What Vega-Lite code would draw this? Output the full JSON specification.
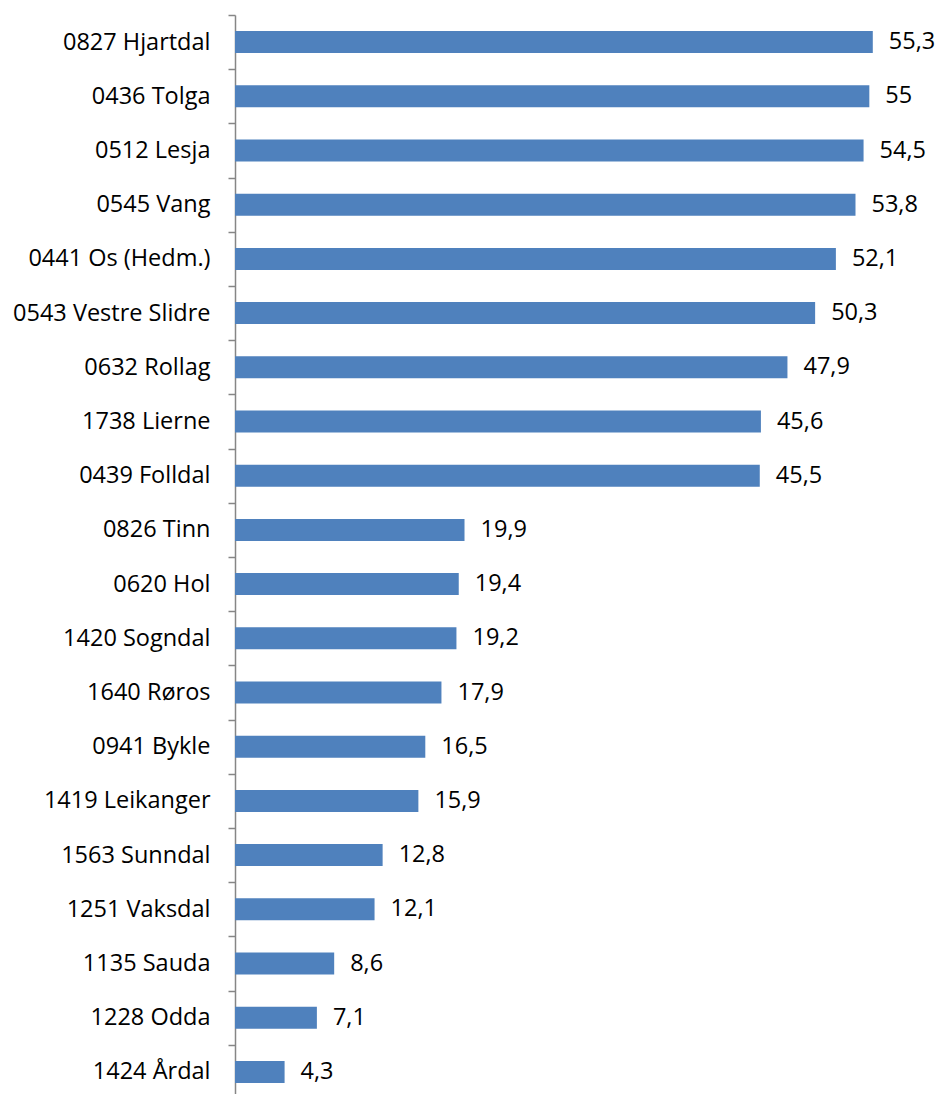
{
  "$schema": "https://vega.github.io/schema/vega-lite/v6.json",
  "autosize": "none",
  "padding": {"left": 235, "top": 15, "right": 12, "bottom": 0},
  "width": 692,
  "height": 1084,
  "background": "white",
  "config": {
    "view": {"stroke": null},
    "font": "Open Sans",
    "locale": {
      "number": {"decimal": ",", "thousands": " ", "grouping": [3], "currency": ["", " kr"]}
    }
  },
  "data": {
    "values": [
      {"kommune": "0827 Hjartdal", "verdi": 55.3},
      {"kommune": "0436 Tolga", "verdi": 55},
      {"kommune": "0512 Lesja", "verdi": 54.5},
      {"kommune": "0545 Vang", "verdi": 53.8},
      {"kommune": "0441 Os (Hedm.)", "verdi": 52.1},
      {"kommune": "0543 Vestre Slidre", "verdi": 50.3},
      {"kommune": "0632 Rollag", "verdi": 47.9},
      {"kommune": "1738 Lierne", "verdi": 45.6},
      {"kommune": "0439 Folldal", "verdi": 45.5},
      {"kommune": "0826 Tinn", "verdi": 19.9},
      {"kommune": "0620 Hol", "verdi": 19.4},
      {"kommune": "1420 Sogndal", "verdi": 19.2},
      {"kommune": "1640 Røros", "verdi": 17.9},
      {"kommune": "0941 Bykle", "verdi": 16.5},
      {"kommune": "1419 Leikanger", "verdi": 15.9},
      {"kommune": "1563 Sunndal", "verdi": 12.8},
      {"kommune": "1251 Vaksdal", "verdi": 12.1},
      {"kommune": "1135 Sauda", "verdi": 8.6},
      {"kommune": "1228 Odda", "verdi": 7.1},
      {"kommune": "1424 Årdal", "verdi": 4.3}
    ]
  },
  "encoding": {
    "y": {
      "field": "kommune",
      "type": "nominal",
      "sort": null,
      "scale": {"paddingInner": 0, "paddingOuter": 0},
      "axis": {
        "title": null,
        "tickBand": "extent",
        "labelFont": "Open Sans",
        "labelFontSize": 23.5,
        "labelColor": "#000000",
        "labelLimit": 400,
        "labelPadding": 18,
        "tickSize": 7,
        "tickColor": "#868686",
        "tickWidth": 1.5,
        "domainColor": "#868686",
        "domainWidth": 1.5
      }
    },
    "x": {
      "field": "verdi",
      "type": "quantitative",
      "scale": {"domain": [0, 60], "nice": false},
      "axis": null
    }
  },
  "layer": [
    {"mark": {"type": "bar", "color": "#4F81BD", "height": {"band": 0.406}}},
    {
      "mark": {"type": "text", "align": "left", "baseline": "middle", "dx": 16, "fontSize": 23.5, "font": "Open Sans", "color": "#000000"},
      "encoding": {"text": {"field": "verdi", "type": "quantitative", "format": ".1~f"}}
    }
  ]
}
